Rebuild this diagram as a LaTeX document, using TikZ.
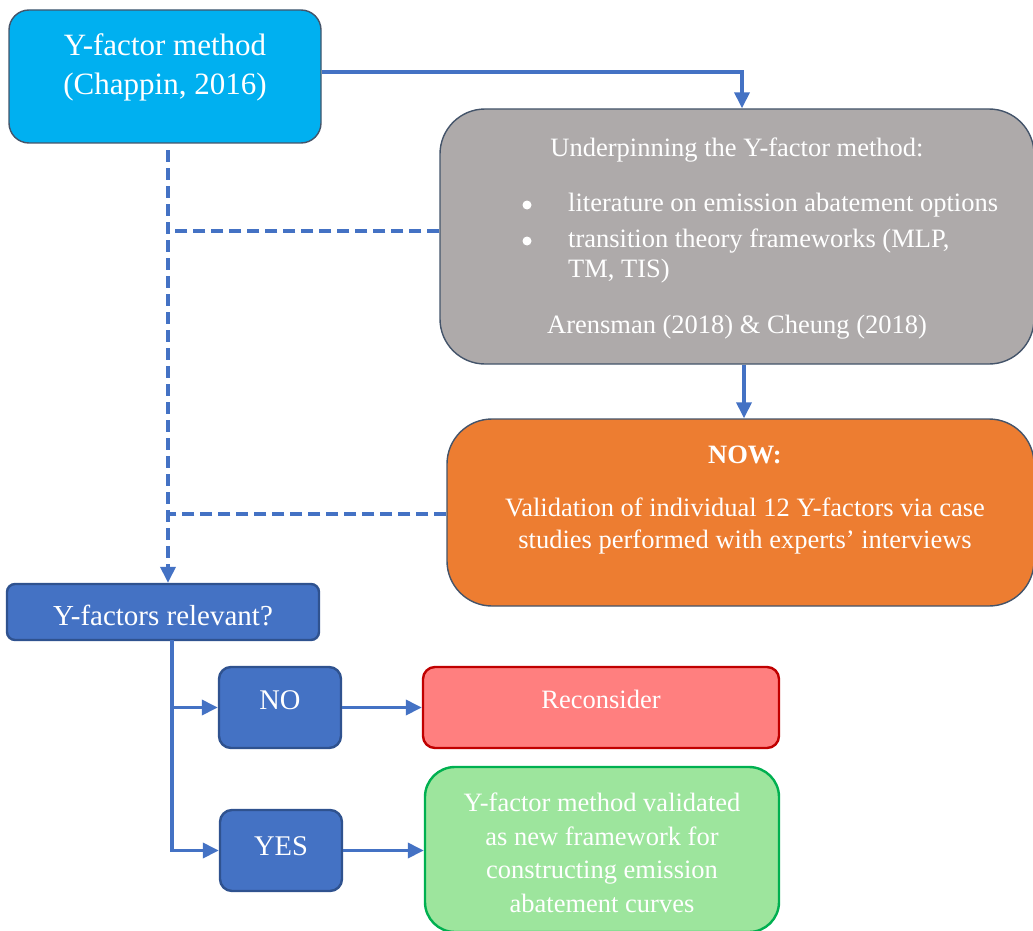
\documentclass[tikz,border=0pt]{standalone}
\usepackage{fontspec}
\setmainfont{Liberation Serif}
\usepackage{xcolor}
\usepackage{tikz}
\usetikzlibrary{arrows.meta}

\definecolor{skyfill}{HTML}{00B0F0}
\definecolor{greyfill}{HTML}{AEAAAA}
\definecolor{orangefill}{HTML}{ED7D31}
\definecolor{flowblue}{HTML}{4472C4}
\definecolor{navyline}{HTML}{2F528F}
\definecolor{slateline}{HTML}{44546A}
\definecolor{redfill}{HTML}{FF7F7F}
\definecolor{redline}{HTML}{C00000}
\definecolor{greenfill}{HTML}{9DE59D}
\definecolor{greenline}{HTML}{00B050}

\begin{document}
\begin{tikzpicture}[x=1pt,y=-1pt,
    card/.style={draw=slateline, line width=1.4pt, inner sep=0pt},
    dark/.style={draw=navyline, fill=flowblue, line width=2.4pt, inner sep=0pt},
    words/.style={text=white, inner sep=0pt, align=center, font=\fontsize{26.5}{32}\selectfont},
    dot/.style={circle, fill=white, inner sep=0pt, minimum size=9pt},
    flow/.style={draw=flowblue, line width=3.6pt, -{Triangle[length=16pt,width=15pt]}},
    link/.style={flow, dash pattern=on 12pt off 6pt}]
    \useasboundingbox (0,0) rectangle (1033,931);

    % boxes
    \node[card, fill=skyfill, rounded corners=20pt, minimum width=312pt, minimum height=133pt] (method) at (165,76.5) {};
    \node[card, fill=greyfill, rounded corners=45pt, minimum width=594pt, minimum height=255pt] (under) at (737,236.5) {};
    \node[card, fill=orangefill, rounded corners=45pt, minimum width=587pt, minimum height=187pt] (now) at (740.5,512.5) {};
    \node[dark, rounded corners=8pt, minimum width=312pt, minimum height=56pt] (relevant) at (163,612) {};
    \node[dark, rounded corners=12pt, minimum width=122pt, minimum height=81pt] (no) at (280,707.5) {};
    \node[dark, rounded corners=12pt, minimum width=122pt, minimum height=81pt] (yes) at (281,850.5) {};
    \node[draw=redline, fill=redfill, line width=2.4pt, rounded corners=12pt, inner sep=0pt,
          minimum width=356pt, minimum height=81pt] (recon) at (601,707.5) {};
    \node[draw=greenline, fill=greenfill, line width=2.4pt, rounded corners=30pt, inner sep=0pt,
          minimum width=354pt, minimum height=165pt] (valid) at (602,849.5) {};

    % texts
    \node[words, font=\fontsize{31}{39}\selectfont] (methodtxt) at (165,67.5) {Y-factor method\\(Chappin, 2016)};
    \node[words] (underhead) at (737,150) {Underpinning the Y-factor method:};
    \node[dot] (bulletA) at (527,205) {};
    \node[words, anchor=west] (itemA) at (568,205) {literature on emission abatement options};
    \node[dot] (bulletB) at (527,241) {};
    \node[words, anchor=west, align=left, font=\fontsize{26.5}{30}\selectfont] (itemB) at (568,256) {transition theory frameworks (MLP,\\TM, TIS)};
    \node[words] (undersrc) at (737,327) {Arensman (2018) \& Cheung (2018)};
    \node[words, font=\fontsize{26.5}{32}\selectfont\bfseries] (nowhead) at (745,455) {NOW:};
    \node[words] (nowtxt) at (745,526) {Validation of individual 12 Y-factors via case\\studies performed with experts’ interviews};
    \node[words, font=\fontsize{29}{34}\selectfont] (relevanttxt) at (163,615) {Y-factors relevant?};
    \node[words, font=\fontsize{28.5}{34}\selectfont] (notxt) at (280,700) {NO};
    \node[words, font=\fontsize{28.5}{34}\selectfont] (yestxt) at (281,846) {YES};
    \node[words] (recontxt) at (601,699) {Reconsider};
    \node[words, font=\fontsize{26.5}{33.5}\selectfont] (validtxt) at (602,853) {Y-factor method validated\\as new framework for\\constructing emission\\abatement curves};

    % connectors
    \coordinate (trunk) at (168,150);
    \coordinate (joinB) at (168,231);
    \coordinate (joinC) at (168,514);
    \coordinate (fork) at (172,640);
    \draw[flow] ([yshift=4.5pt]method.east) -| ([xshift=5pt]under.north);
    \draw[flow] ([xshift=7pt]under.south) -- ([xshift=7pt]under.south |- now.north);
    \draw[link] (trunk) -- (trunk |- relevant.north);
    \draw[link, -] (under.west |- joinB) -- (joinB);
    \draw[link, -] (now.west |- joinC) -- (joinC);
    \draw[flow] (fork) |- (yes.west);
    \draw[flow] (fork |- no.west) -- (no.west);
    \draw[flow] (no.east) -- (recon.west);
    \draw[flow] (yes.east) -- (yes.east -| valid.west);
\end{tikzpicture}
\end{document}
